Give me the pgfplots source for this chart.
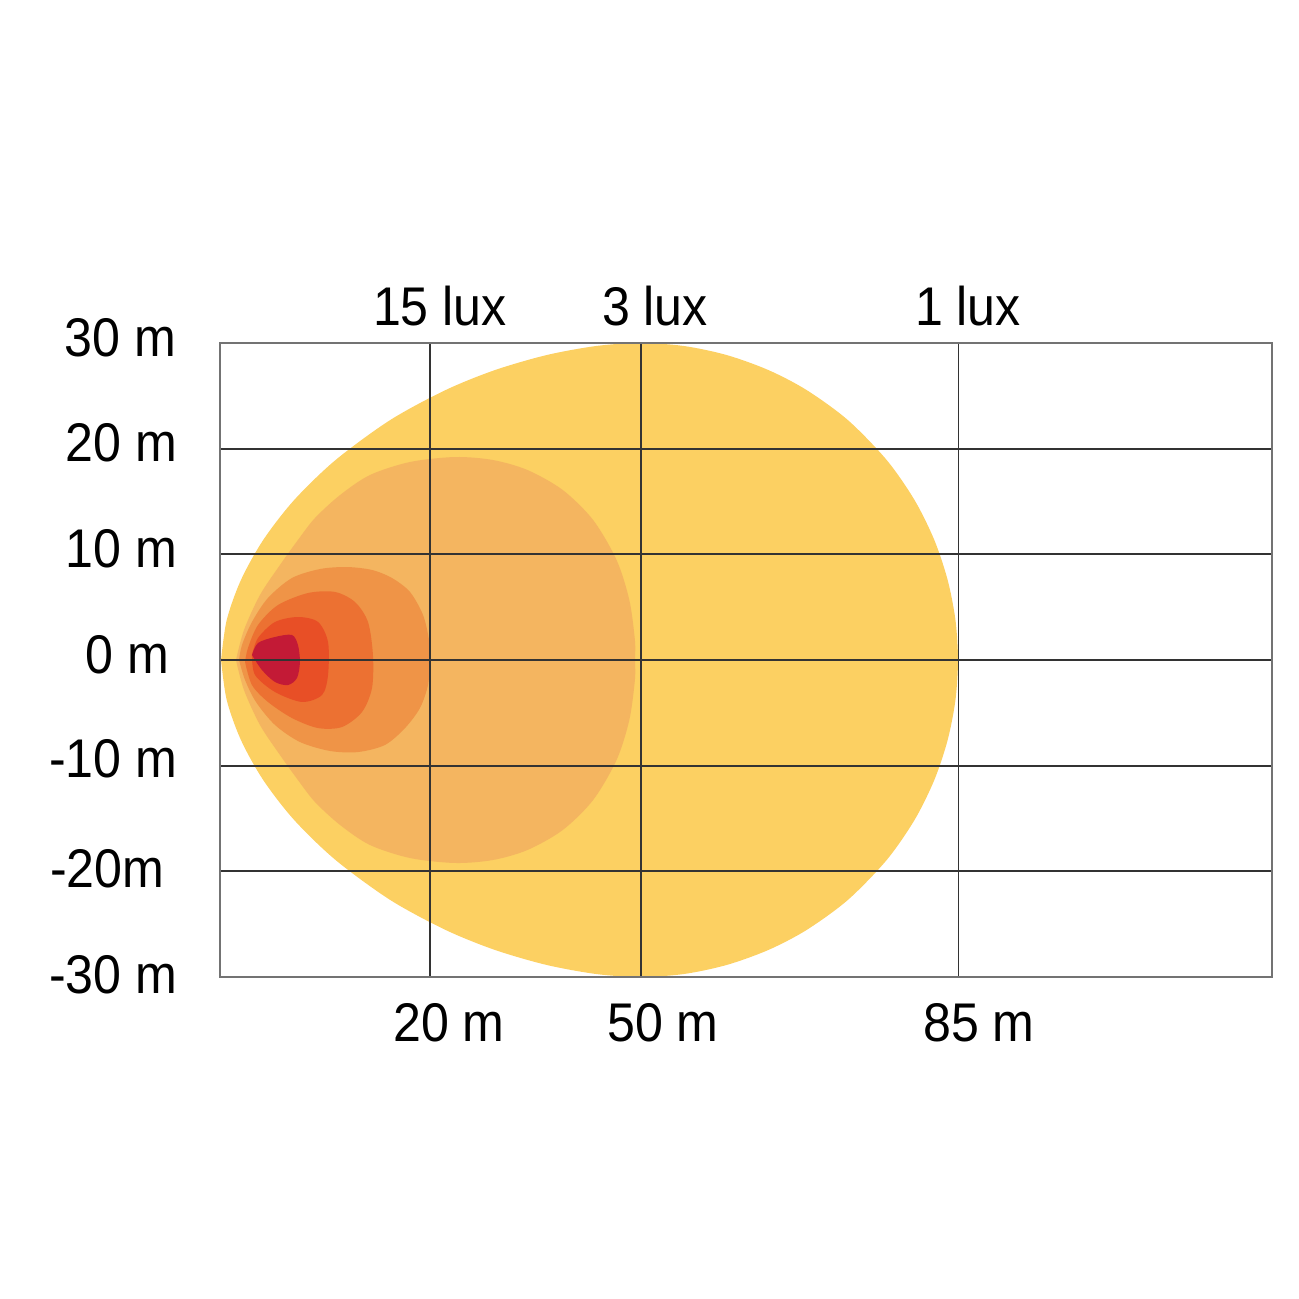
\documentclass[border=0pt]{standalone}
\usepackage{pgfplots}
\pgfplotsset{compat=1.18}
\usepackage{fontspec}
\setmainfont[FakeStretch=0.92]{Liberation Sans}
\definecolor{c1}{HTML}{FCD062}
\definecolor{c2}{HTML}{F4B560}
\definecolor{c3}{HTML}{EF9447}
\definecolor{c4}{HTML}{EC7132}
\definecolor{c5}{HTML}{E84F26}
\definecolor{c6}{HTML}{C31A36}
\begin{document}
\fontsize{15.5}{18}\selectfont
\begin{tikzpicture}
\begin{axis}[name=ax, at={(0,0)}, anchor=south west,
  scale only axis, width=105.2mm, height=63.4mm,
  xmin=0, xmax=100, ymin=-30, ymax=30,
  xtick={20,40,70.2}, ytick={-30,-20,-10,0,10,20,30},
  xticklabels={}, yticklabels={},
  major tick length=0pt,
  grid=major, major grid style={black!80, line width=0.55pt},
  axis line style={black!55, line width=0.7pt},
  clip mode=individual,
  axis on top]
% outer (1 lux)
\addplot[draw=none, fill=c1, smooth] coordinates {
(0.10,0) (0.64,3.79) (1.99,7.57) (4.11,11.36) (7.05,15.14) (10.99,18.93) (16.18,22.71) (21.45,25.55) (26.14,27.44) (31.05,28.86) (35.78,29.72) (39.92,30.0)
(44.08,29.72) (48.17,28.86) (52.13,27.44) (55.76,25.55) (59.68,22.71) (63.37,18.93) (66.02,15.14) (67.90,11.36) (69.17,7.57) (69.91,3.79) (70.15,0)
(69.91,-3.79) (69.17,-7.57) (67.90,-11.36) (66.02,-15.14) (63.37,-18.93) (59.68,-22.71) (55.76,-25.55) (52.13,-27.44) (48.17,-28.86) (44.08,-29.72) (39.92,-30.0)
(35.78,-29.72) (31.05,-28.86) (26.14,-27.44) (21.45,-25.55) (16.18,-22.71) (10.99,-18.93) (7.05,-15.14) (4.11,-11.36) (1.99,-7.57) (0.64,-3.79) (0.10,0)};
% 3 lux
\addplot[draw=none, fill=c2, smooth] coordinates {
(1.52,0) (2.28,2.84) (3.80,6.15) (5.70,8.99) (7.41,11.36) (9.03,13.44) (11.41,15.61) (14.26,17.51) (18.06,18.74) (22.34,19.21)
(25.93,18.93) (29.23,17.98) (32.58,16.09) (35.47,13.25) (37.70,9.46) (38.91,5.68) (39.44,1.89) (39.45,0)
(39.44,-1.89) (38.91,-5.68) (37.70,-9.46) (35.47,-13.25) (32.58,-16.09) (29.23,-17.98) (25.93,-18.93) (22.34,-19.21)
(18.06,-18.74) (14.26,-17.51) (11.41,-15.61) (9.03,-13.44) (7.41,-11.36) (5.70,-8.99) (3.80,-6.15) (2.28,-2.84) (1.52,0)};
% 15 lux
\addplot[draw=none, fill=c3, smooth] coordinates {
(1.81,0) (2.09,1.42) (3.04,3.60) (4.56,5.87) (6.84,7.76) (9.51,8.61) (12.07,8.80) (14.45,8.52) (16.35,7.76) (18.06,6.44) (19.30,4.26) (19.87,1.89) (19.96,0)
(19.77,-2.37) (19.01,-4.54) (17.59,-6.44) (15.68,-8.04) (13.12,-8.71) (10.46,-8.61) (7.60,-7.76) (5.23,-6.15) (3.42,-3.97) (2.38,-1.89) (1.81,0)};
% inner levels
\addplot[draw=none, fill=c4, smooth] coordinates {
(2.38,-0.19) (2.66,1.14) (3.61,3.31) (5.51,5.20) (8.37,6.34) (10.93,6.44) (12.83,5.49) (14.07,3.60) (14.54,0.47) (14.45,-2.65) (13.50,-4.92) (11.60,-6.34) (9.32,-6.44) (6.84,-5.49) (4.56,-3.97) (3.04,-2.37) (2.38,-0.19)};
\addplot[draw=none, fill=c5, smooth] coordinates {
(3.04,0.47) (3.61,2.08) (5.23,3.60) (7.41,4.07) (9.32,3.60) (10.27,1.70) (10.27,-1.42) (9.70,-3.31) (7.79,-3.97) (5.23,-3.03) (3.33,-1.42) (3.04,0.47)};
\addplot[draw=none, fill=c6, smooth] coordinates {
(3.04,0.47) (3.61,1.61) (5.23,2.18) (6.84,2.37) (7.41,1.42) (7.60,-0.19) (7.32,-1.70) (6.46,-2.37) (5.23,-2.08) (3.99,-0.95) (3.04,0.47)};
% top labels
\node[anchor=base, yshift=1.8mm] at (axis cs:20.91,30) {15 lux};
\node[anchor=base, yshift=1.8mm] at (axis cs:41.35,30) {3 lux};
\node[anchor=base, yshift=1.8mm] at (axis cs:71.10,30) {1 lux};
% bottom labels
\node[anchor=base, yshift=-6.4mm] at (axis cs:21.77,-30) {20 m};
\node[anchor=base, yshift=-6.4mm] at (axis cs:42.11,-30) {50 m};
\node[anchor=base, yshift=-6.4mm] at (axis cs:72.15,-30) {85 m};
% y labels
\node[anchor=base east, inner sep=0pt, xshift=-4.3mm, yshift=-1.3mm] at (axis cs:0,30) {30 m};
\node[anchor=base east, inner sep=0pt, xshift=-4.2mm, yshift=-1.3mm] at (axis cs:0,20) {20 m};
\node[anchor=base east, inner sep=0pt, xshift=-4.2mm, yshift=-1.3mm] at (axis cs:0,10) {10 m};
\node[anchor=base east, inner sep=0pt, xshift=-5.0mm, yshift=-1.3mm] at (axis cs:0,0) {0 m};
\node[anchor=base east, inner sep=0pt, xshift=-4.2mm, yshift=-1.2mm] at (axis cs:0,-10) {-10 m};
\node[anchor=base east, inner sep=0pt, xshift=-5.5mm, yshift=-1.6mm] at (axis cs:0,-20) {-20m};
\node[anchor=base east, inner sep=0pt, xshift=-4.2mm, yshift=-1.6mm] at (axis cs:0,-30) {-30 m};
\end{axis}
\pgfresetboundingbox
\path[use as bounding box] (ax.south west) ++(-22mm,-32.2mm) rectangle ++(129.9mm,129.9mm);
\end{tikzpicture}
\end{document}
